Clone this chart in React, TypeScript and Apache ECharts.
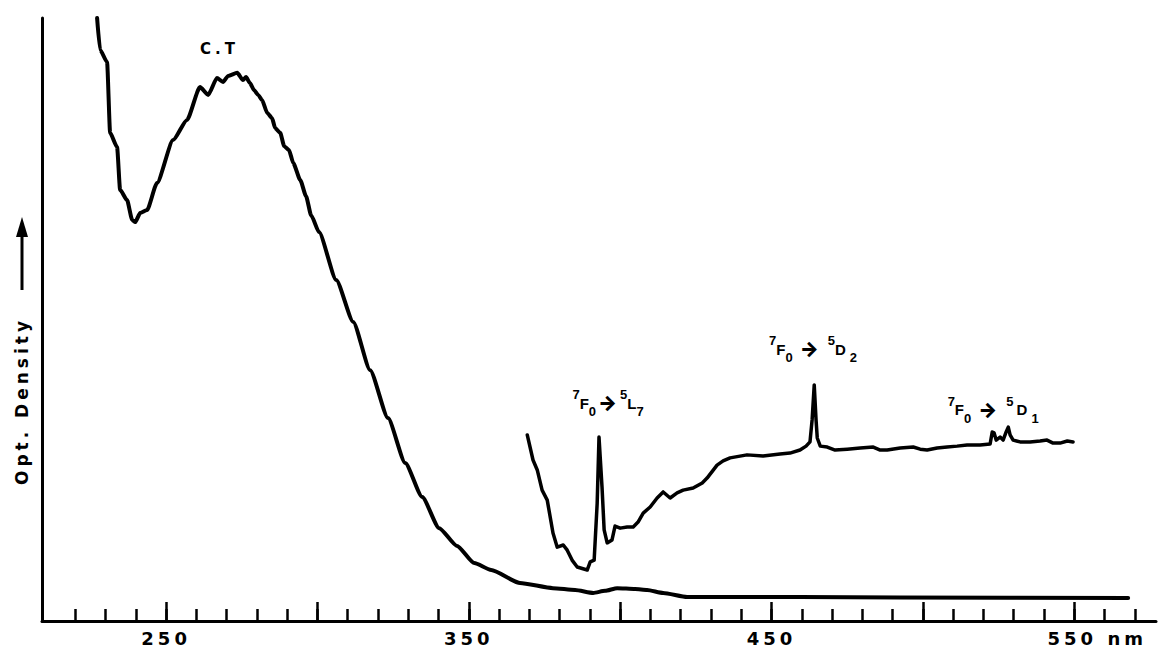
import React, { useEffect, useRef } from "react";
import * as echarts from "echarts";

// Main absorption trace (wavelength nm, optical density, arbitrary units)
const wavelengthMain = [
  227.2, 228.2, 230.5, 231.5, 233.8, 234.8, 237.1, 238.8, 239.8, 241.4, 243.7, 247.0,
  252.3, 256.9, 261.2, 263.9, 266.8, 268.8, 270.5, 273.5, 275.4, 276.4, 277.7, 279.1,
  280.4, 281.7, 283.4, 285.0, 286.0, 287.7, 289.0, 290.6, 292.0, 294.3, 296.2, 297.9,
  300.5, 306.2, 311.8, 317.4, 323.3, 329.0, 334.6, 340.2, 346.1, 351.8,
  357.4, 366.9, 377.8, 385.1, 391.1, 395.0, 399.0, 404.9, 408.9, 414.2, 422.1, 459.4,
  492.5, 567.8,
];
const odMain = [
  2.0, 1.894, 1.854, 1.619, 1.572, 1.43, 1.396, 1.33, 1.323, 1.353, 1.363, 1.453,
  1.595, 1.662, 1.771, 1.745, 1.801, 1.788, 1.808, 1.818, 1.794, 1.804, 1.784, 1.76,
  1.745, 1.728, 1.685, 1.668, 1.635, 1.619, 1.575, 1.562, 1.519, 1.463, 1.41, 1.346,
  1.29, 1.131, 0.992, 0.832, 0.673, 0.524, 0.411, 0.308, 0.249, 0.192,
  0.169, 0.126, 0.109, 0.103, 0.093, 0.1, 0.109, 0.106, 0.103, 0.093, 0.08, 0.08,
  0.078, 0.076,
];

// Expanded trace (f-f transitions region)
const wavelengthExpanded = [
  369.3, 371.2, 372.6, 374.2, 375.9, 377.8, 379.2, 381.2, 382.5, 384.1, 385.8, 389.1,
  390.1, 391.4, 392.4, 393.0, 394.0, 394.7, 395.7, 397.3, 398.3, 400.0, 402.3, 404.3,
  405.9, 407.6, 409.9, 412.2, 414.2, 416.5, 418.8, 420.8, 424.1, 427.1, 428.7, 432.0,
  434.0, 436.3, 441.9, 447.2, 452.8, 456.1, 459.4, 461.4, 462.7, 463.4, 464.1, 464.7,
  465.1, 466.1, 468.4, 471.0, 475.0, 479.3, 483.6, 485.9, 488.2, 492.5, 496.8, 499.1,
  501.4, 504.7, 508.0, 511.3, 514.6, 518.9, 522.2, 522.9, 523.5, 524.2, 525.5, 526.5,
  527.5, 528.2, 528.8, 529.8, 532.1, 535.4, 538.7, 541.0, 543.0, 545.3, 547.7, 549.6,
];
const odExpanded = [
  0.617, 0.534, 0.501, 0.434, 0.401, 0.292, 0.245, 0.252, 0.235, 0.202, 0.179, 0.169,
  0.196, 0.202, 0.391, 0.61, 0.444, 0.302, 0.259, 0.269, 0.315, 0.308, 0.312, 0.312,
  0.328, 0.358, 0.378, 0.408, 0.428, 0.408, 0.425, 0.434, 0.441, 0.458, 0.474, 0.517,
  0.531, 0.541, 0.551, 0.547, 0.554, 0.557, 0.567, 0.58, 0.594, 0.667, 0.783, 0.667,
  0.607, 0.58, 0.577, 0.567, 0.57, 0.574, 0.577, 0.567, 0.567, 0.574, 0.577, 0.57,
  0.567, 0.574, 0.577, 0.58, 0.584, 0.584, 0.587, 0.627, 0.624, 0.6, 0.61, 0.6,
  0.627, 0.643, 0.617, 0.6, 0.594, 0.594, 0.597, 0.6, 0.59, 0.59, 0.597, 0.594,
];

// Axis ticks
const minorTicks = [
  220, 230, 240, 250, 260, 270, 280, 290, 300, 310, 320, 330, 340, 350, 360, 370, 380, 390,
  400, 410, 420, 430, 440, 450, 460, 470, 480, 490, 500, 510, 520, 530, 540, 550, 560, 570,
];
const majorTicks = [250, 300, 350, 400, 450, 500, 550];
const tickLabels = [250, 350, 450, 550];

// Annotations
const annotationX = [267.6, 396.0, 463.7, 523.2];
const annotationY = [1.897, 0.723, 0.902, 0.7];
const annotationText = [
  "{ct|C.T}",
  "{sup|7}{m|F}{sub|0}{arr|→}{sup|5}{m|L}{sub|7}",
  "{sup|7}{m|F}{sub|0}{arrw|→}{sup|5}{m|D}{subw|2}",
  "{sup|7}{m|F}{sub|0}{arrw|→}{sup|5}{mw|D}{subw|1}",
];

// Spaced (tracked) lettering for axis texts; annotations use a different family without tracking
const FONT = "'DejaVu Sans', 'Liberation Sans', Arial, sans-serif";
const ANNOT_FONT = "'Liberation Sans', Arial, sans-serif";
const ARROW_FONT = "Inter, 'Noto Sans', sans-serif";

const pairs = (xs: number[], ys: number[]) => xs.map((x, i) => [x, ys[i]]);

const richBase = { fontFamily: ANNOT_FONT, fontWeight: "bold", color: "#000" };
const arrowBase = { fontFamily: ARROW_FONT, fontWeight: 900, color: "#000" };

export default function App() {
  const ref = useRef<HTMLDivElement>(null);

  useEffect(() => {
    if (!ref.current) return;
    const chart = echarts.init(ref.current, null, { renderer: "svg" });
    const xMin = 209;
    const xMax = 577;
    const option: any = {
      animation: false,
      backgroundColor: "#ffffff",
      grid: { left: 42, right: 4, top: 18, bottom: 28 },
      xAxis: [
        {
          type: "value",
          min: xMin,
          max: xMax,
          position: "bottom",
          axisLine: { show: true, lineStyle: { color: "#000", width: 3 } },
          axisTick: {
            show: true,
            inside: true,
            length: 12,
            customValues: minorTicks,
            lineStyle: { color: "#000", width: 2.5 },
          },
          axisLabel: {
            show: true,
            customValues: tickLabels,
            margin: 8,
            color: "#000",
            fontFamily: FONT,
            fontWeight: "bold",
            fontSize: 18,
            formatter: (v: number) => (v === 550 ? "{p|}{v|550 nm}" : "{v|" + v + "}"),
            rich: {
              p: { width: 46 },
              v: { fontFamily: FONT, fontWeight: "bold", color: "#000", fontSize: 18 },
            },
          },
          splitLine: { show: false },
        },
        {
          type: "value",
          min: xMin,
          max: xMax,
          position: "bottom",
          axisLine: { show: false },
          axisTick: {
            show: true,
            inside: true,
            length: 19,
            customValues: majorTicks,
            lineStyle: { color: "#000", width: 2.5 },
          },
          axisLabel: { show: false },
          splitLine: { show: false },
        },
      ],
      yAxis: {
        type: "value",
        min: 0,
        max: 2,
        axisLine: { show: true, lineStyle: { color: "#000", width: 3 } },
        axisTick: { show: false },
        axisLabel: { show: false },
        splitLine: { show: false },
      },
      graphic: [
        {
          type: "text",
          x: 22,
          y: 401,
          rotation: Math.PI / 2,
          style: {
            text: "Opt. Density",
            font: "bold 17px " + FONT,
            fill: "#000",
            align: "center",
            verticalAlign: "middle",
          },
        },
        {
          type: "line",
          shape: { x1: 22, y1: 290, x2: 22, y2: 232 },
          style: { stroke: "#000", lineWidth: 3 },
        },
        {
          type: "polygon",
          shape: { points: [[22, 217], [16, 237], [28, 237]] },
          style: { fill: "#000" },
        },
      ],
      series: [
        {
          type: "line",
          name: "spectrum",
          data: pairs(wavelengthMain, odMain),
          showSymbol: false,
          symbol: "none",
          silent: true,
          smooth: 0.2,
          smoothMonotone: "x",
          lineStyle: { color: "#000", width: 4, join: "round", cap: "round" },
          markPoint: {
            silent: true,
            symbol: "circle",
            symbolSize: 0,
            data: annotationX.map((x, i) => ({
              coord: [x, annotationY[i]],
              label: {
                show: true,
                position: "inside",
                formatter: annotationText[i],
                rich: {
                  ct: { fontFamily: FONT, fontWeight: "bold", color: "#000", fontSize: 15, lineHeight: 20 },
                  m: { ...richBase, fontSize: 15, lineHeight: 30, verticalAlign: "middle" },
                  mw: { ...richBase, fontSize: 15, lineHeight: 30, verticalAlign: "middle", padding: [0, 0, 0, 3] },
                  sup: { ...richBase, fontSize: 13, lineHeight: 13, verticalAlign: "top" },
                  sub: { ...richBase, fontSize: 13, lineHeight: 13, verticalAlign: "bottom" },
                  subw: { ...richBase, fontSize: 13, lineHeight: 13, verticalAlign: "bottom", padding: [0, 0, 0, 4] },
                  arr: { ...arrowBase, fontSize: 20, lineHeight: 30, verticalAlign: "middle", padding: [0, 3, 0, 2] },
                  arrw: { ...arrowBase, fontSize: 20, lineHeight: 30, verticalAlign: "middle", padding: [0, 9, 0, 7] },
                },
              },
            })),
          },
        },
        {
          type: "line",
          name: "expanded",
          data: pairs(wavelengthExpanded, odExpanded),
          showSymbol: false,
          symbol: "none",
          silent: true,
          lineStyle: { color: "#000", width: 3.5, join: "round", cap: "round" },
        },
      ],
    };
    chart.setOption(option);
    return () => chart.dispose();
  }, []);

  const css =
    ".spectrum-chart svg text[style*='DejaVu'], .spectrum-chart svg text[font-family*='DejaVu'] { letter-spacing: 4px; }";

  return (
    <>
      <style>{css}</style>
      <div
        ref={ref}
        className="spectrum-chart"
        style={{ position: "fixed", left: 0, top: 0, width: 1160, height: 649, background: "#fff" }}
      />
    </>
  );
}
